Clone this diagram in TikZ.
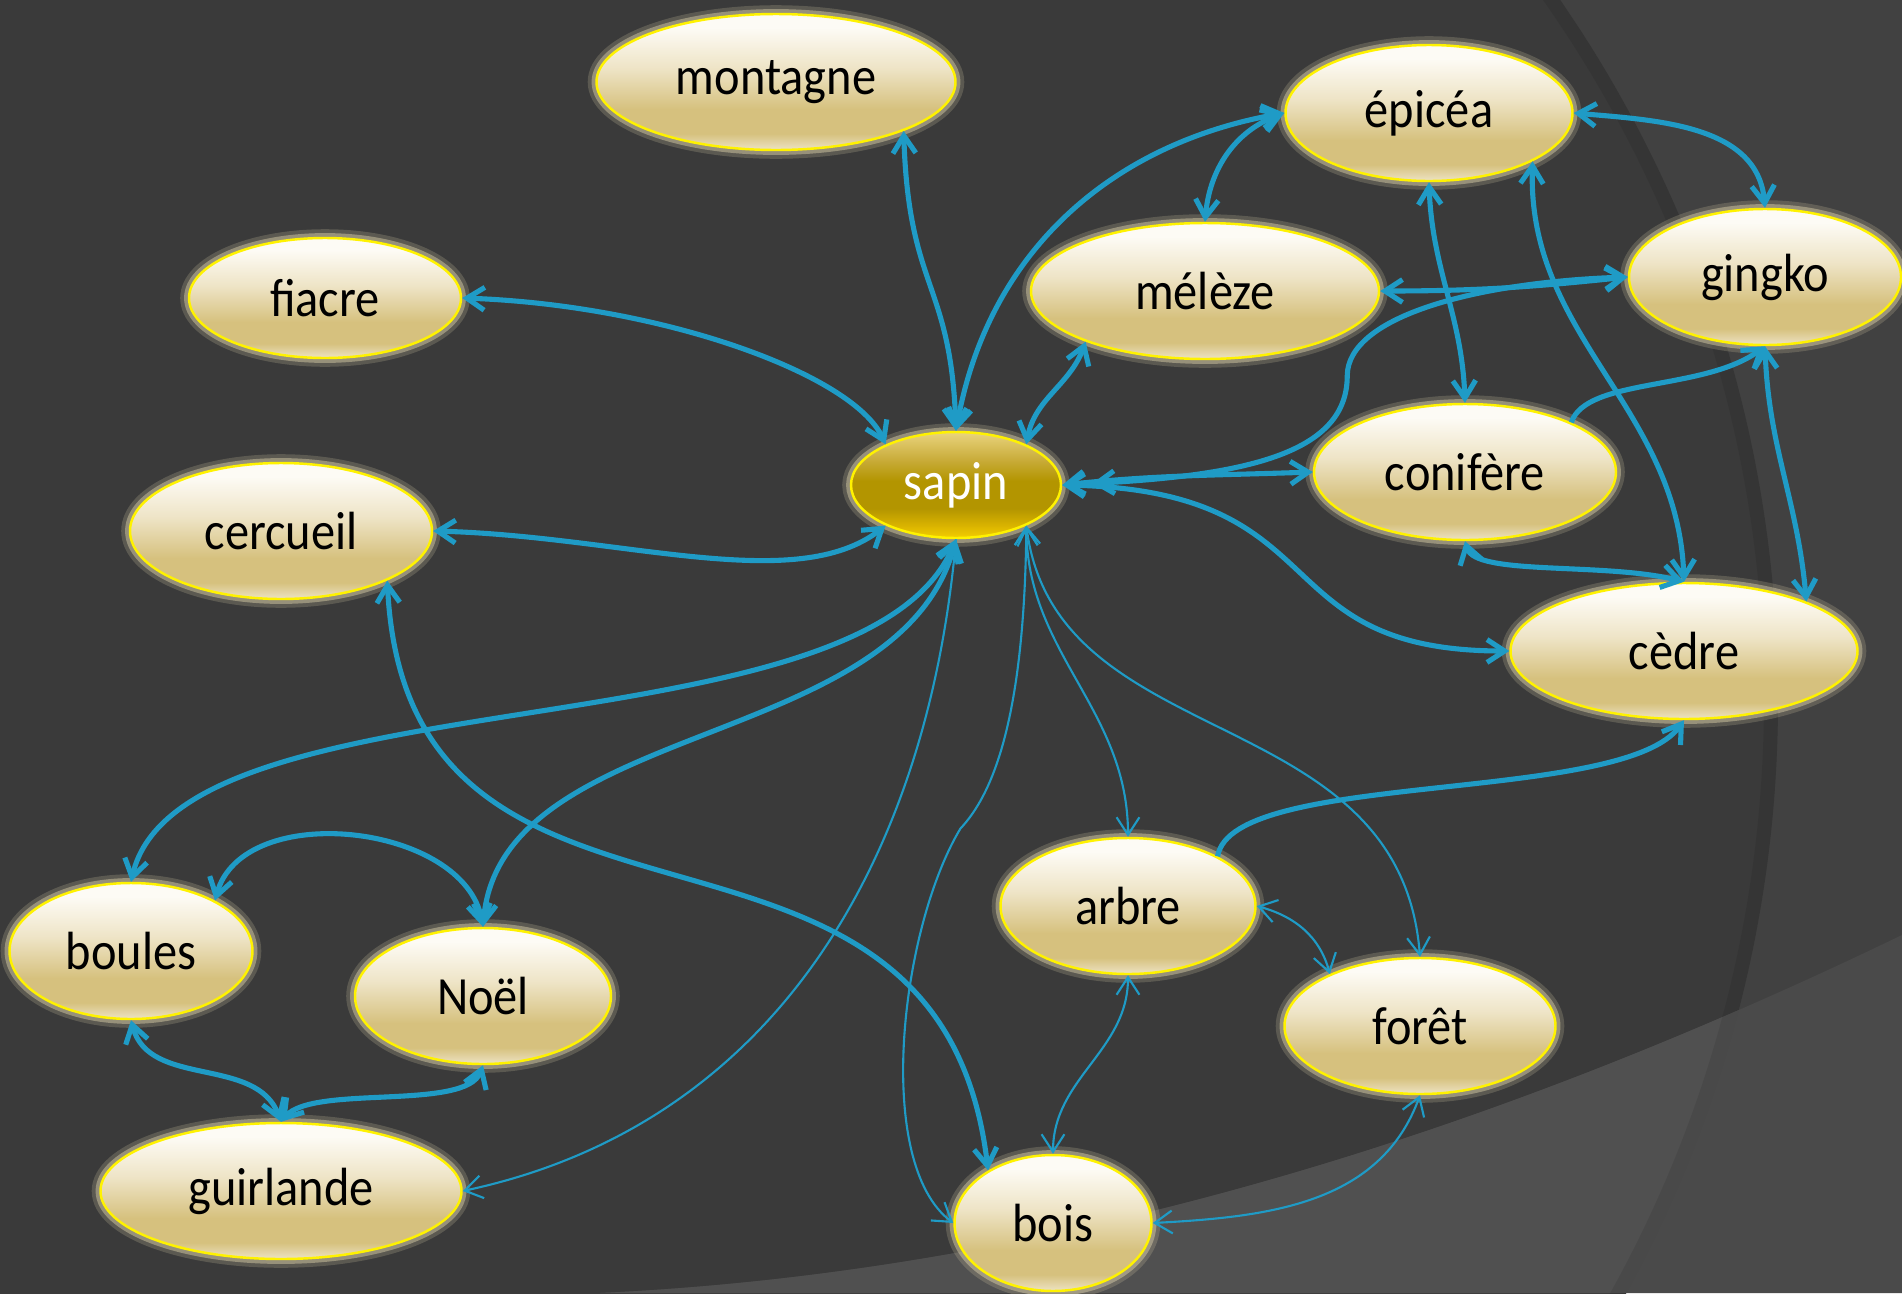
\documentclass[tikz,border=0pt]{standalone}
\usepackage{fontspec}
\setmainfont{Carlito}[FakeStretch=0.9]
\usepackage{tikz}
\usetikzlibrary{shapes.geometric, arrows.meta}

\definecolor{fond}{HTML}{3A3A3A}
\definecolor{fondext}{HTML}{414141}
\definecolor{fondbas}{HTML}{505050}
\definecolor{fondbasext}{HTML}{4A4A4A}
\definecolor{fleche}{HTML}{1F9BC6}
\definecolor{halo}{HTML}{E2D6AE}
\definecolor{motblanc}{HTML}{FDFBF5}
\definecolor{motclair}{HTML}{EEE4C6}
\definecolor{motfonce}{HTML}{D6C17E}
\definecolor{motbas}{HTML}{EDE3C4}
\definecolor{orhaut}{HTML}{E9D47E}
\definecolor{ormoyen}{HTML}{C9AC3A}
\definecolor{orfonce}{HTML}{B39500}
\definecolor{orvif}{HTML}{D9B300}
\definecolor{orbas}{HTML}{F4CE00}

\pgfdeclareverticalshading{motshade}{100bp}{color(0bp)=(motbas); color(25bp)=(motbas); color(31bp)=(motfonce); color(40bp)=(motfonce); color(55bp)=(motclair); color(70bp)=(motblanc); color(100bp)=(motblanc)}
\pgfdeclareverticalshading{sapinshade}{100bp}{color(0bp)=(orbas); color(25bp)=(orbas); color(31bp)=(orvif); color(39bp)=(orfonce); color(52bp)=(orfonce); color(62bp)=(ormoyen); color(75bp)=(orhaut); color(100bp)=(orhaut)}

\tikzset{
  mot/.style={ellipse, draw=yellow, line width=0.7pt, shade, shading=motshade, text=black,
    minimum height=1.36cm, inner sep=0pt,
    preaction={draw=halo, line width=5pt, opacity=0.2},
    preaction={draw=halo, line width=2.8pt, opacity=0.45}},
  centre/.style={mot, shading=sapinshade, text=white},
  lien/.style={draw=fleche, line width=1.45pt},
  fin/.style={draw=fleche, line width=0.6pt}
}

\begin{document}
\begin{tikzpicture}[>={Straight Barb[length=5pt,width=6.5pt]}, font=\fontsize{15.3}{18}\selectfont]
        \useasboundingbox (0,0) rectangle (19.02,-12.93);
        \clip (0,0) rectangle (19.02,-12.93);
        \fill[fondext] (0,0) rectangle (19.02,-12.93);
        \fill[fond] (5.45,-7.0) circle (12.33);
        \fill[fondbasext] (6.0,-12.93) .. controls (11.0,-12.7) and (15.5,-11.05) .. (19.02,-9.35) -- (19.02,-12.93) -- cycle;
        \begin{scope}
            \clip (5.45,-7.0) circle (12.33);
            \fill[fondbas] (6.0,-12.93) .. controls (11.0,-12.7) and (15.5,-11.05) .. (19.02,-9.35) -- (19.02,-12.93) -- cycle;
            \draw[black, opacity=0.08, line width=8pt] (5.45,-7.0) circle (12.33);
        \end{scope}

        \node[mot, minimum width=3.59cm] (montagne) at (7.76,-0.82) {montagne};
        \node[mot, minimum width=2.87cm] (epicea) at (14.29,-1.13) {épicéa};
        \node[mot, minimum width=2.72cm, minimum height=1.2cm] (fiacre) at (3.25,-2.98) {fiacre};
        \node[mot, minimum width=3.48cm] (meleze) at (12.05,-2.91) {mélèze};
        \node[mot, minimum width=2.72cm] (gingko) at (17.65,-2.77) {gingko};
        \node[centre, minimum width=2.10cm, minimum height=1.06cm] (sapin) at (9.56,-4.85) {sapin};
        \node[mot, minimum width=3.02cm] (cercueil) at (2.81,-5.31) {cercueil};
        \node[mot, minimum width=3.02cm] (conifere) at (14.65,-4.72) {conifère};
        \node[mot, minimum width=3.47cm] (cedre) at (16.84,-6.51) {cèdre};
        \node[mot, minimum width=2.55cm] (arbre) at (11.28,-9.06) {arbre};
        \node[mot, minimum width=2.43cm] (boules) at (1.31,-9.51) {boules};
        \node[mot, minimum width=2.56cm] (noel) at (4.83,-9.96) {Noël};
        \node[mot, minimum width=2.71cm] (foret) at (14.20,-10.26) {forêt};
        \node[mot, minimum width=3.61cm] (guirlande) at (2.81,-11.91) {guirlande};
        \node[mot, minimum width=1.97cm] (bois) at (10.53,-12.23) {bois};

        \draw[lien, <->] (montagne.-21) .. controls +(0.05,-1.6) and +(-0.05,1.5) .. (sapin.north);
        \draw[lien, <->] (sapin.north) to[out=80, in=190] (epicea.west);
        \draw[lien, <->] (fiacre.east) .. controls +(2.0,-0.07) and +(-0.32,0.7) .. (sapin.150);
        \draw[lien, <->] (cercueil.east) .. controls +(1.9,-0.05) and +(-0.9,-0.7) .. (sapin.210);
        \draw[lien, <->] (sapin.30) to[out=80, in=-110] (meleze.203);
        \draw[lien, <->] (epicea.west) to[out=200, in=85] (meleze.north);
        \draw[lien, <->] (meleze.east) to[out=0, in=186] (gingko.west);
        \draw[lien, <->, shorten <=0.3cm] (sapin.east) .. controls +(1.9,0.1) and +(0,-0.75) .. ++(2.85,1.09) .. controls +(0,0.6) and +(-1.5,-0.05) .. (gingko.west);
        \draw[lien, <->] (sapin.east) to[out=6, in=182] (conifere.west);
        \draw[lien, <->] (sapin.east) .. controls +(2.8,-0.05) and +(-2.5,0) .. (cedre.west);
        \draw[lien, <->] (epicea.south) to[out=-88, in=92] (conifere.north);
        \draw[lien, <->] (epicea.-25) to[out=-92, in=92] (cedre.north);
        \draw[lien, <->] (epicea.east) to[out=-5, in=95] (gingko.north);
        \draw[lien, <->] (gingko.south) to[out=-88, in=95] (cedre.22);
        \draw[lien, ->] (conifere.25) .. controls +(0.15,0.45) and +(-0.6,-0.45) .. (gingko.south);
        \draw[lien, <->] (conifere.south) .. controls +(0.1,-0.35) and +(-0.8,0.2) .. (cedre.north);
        \draw[lien, ->] (arbre.29) .. controls +(0.14,0.87) and +(-0.6,-0.85) .. (cedre.south);
        \draw[lien, <->] (sapin.south) .. controls +(-0.9,-2.2) and +(0.49,2.13) .. (boules.north);
        \draw[lien, <->] (sapin.south) .. controls +(-0.56,-2.12) and +(0.17,2.08) .. (noel.north);
        \draw[lien, <->] (cercueil.-25) .. controls +(0.2,-4.2) and +(-0.5,4.2) .. (bois.141);
        \draw[lien, <->] (boules.31) to[out=75, in=100] (noel.north);
        \draw[lien, <->] (boules.south) to[out=-75, in=110] (guirlande.north);
        \draw[lien, <->] (noel.south) to[out=-110, in=50, looseness=0.6] (guirlande.north);

        \draw[fin, ->] (sapin.south) to[out=-95, in=12] (guirlande.east);
        \draw[fin, <->] (sapin.-30) to[out=-90, in=90] (arbre.north);
        \draw[fin, <->] (sapin.-30) .. controls +(0.29,-2.31) and +(-0.2,2.58) .. (foret.north);
        \draw[fin, <->] (sapin.-30) .. controls +(-0.02,-2.0) and +(0.3,0.32) .. ++(-0.66,-3.03) .. controls +(-0.6,-1.0) and +(-0.8,0.6) .. (bois.west);
        \draw[fin, <->] (arbre.south) to[out=-90, in=90] (bois.north);
        \draw[fin, <->] (arbre.east) to[out=-15, in=105] (foret.150);
        \draw[fin, <->] (foret.south) to[out=-110, in=3] (bois.east);
    \end{tikzpicture}
\end{document}
